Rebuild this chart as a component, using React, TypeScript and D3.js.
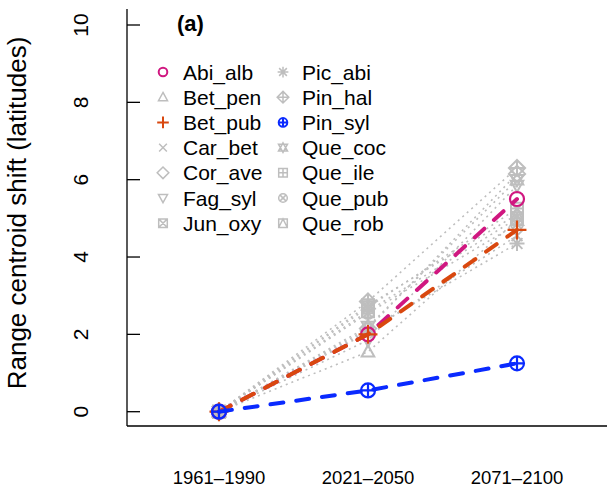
import * as d3 from 'd3';

// Range centroid shift per species and period (latitudes)
const periods = ['1961–1990', '2021–2050', '2071–2100'];
const species = [
  'Abi_alb', 'Bet_pen', 'Bet_pub', 'Car_bet', 'Cor_ave', 'Fag_syl', 'Jun_oxy',
  'Pic_abi', 'Pin_hal', 'Pin_syl', 'Que_coc', 'Que_ile', 'Que_pub', 'Que_rob',
];
const shift1961 = [0, 0, 0, 0, 0, 0, 0, 0, 0, 0, 0, 0, 0, 0];
const shift2021 = [2.0, 1.55, 2.0, 2.05, 2.15, 1.85, 2.7, 2.1, 2.85, 0.55, 2.2, 2.6, 2.55, 2.75];
const shift2071 = [5.5, 4.95, 4.7, 4.55, 6.15, 5.85, 5.25, 4.35, 6.3, 1.25, 6.0, 5.0, 4.85, 5.1];
const pchCodes = [1, 2, 3, 4, 5, 6, 7, 8, 9, 10, 11, 12, 13, 14];
const highlight: Record<string, string> = {
  Abi_alb: '#d01780',
  Bet_pub: '#d9480f',
  Pin_syl: '#0a2aff',
};
const yTicks = [0, 2, 4, 6, 8, 10];

const GRAY = '#bebebe';
const FONT = '"Liberation Sans", Arial, Helvetica, sans-serif';

// R-like plotting symbols as path strings centred on 0,0
function symbolPath(pch: number, s: number): string {
  const circle = `M${-s},0A${s},${s} 0 1,0 ${s},0A${s},${s} 0 1,0 ${-s},0Z`;
  const plus = (r: number) => `M${-r},0H${r}M0,${-r}V${r}`;
  const cross = (r: number) => `M${-r},${-r}L${r},${r}M${-r},${r}L${r},${-r}`;
  const square = `M${-s},${-s}H${s}V${s}H${-s}Z`;
  const diamond = (r: number) => `M0,${-r}L${r},0L0,${r}L${-r},0Z`;
  const triUp = `M0,${-s * 1.1}L${s * 1.05},${s * 0.8}L${-s * 1.05},${s * 0.8}Z`;
  const triDown = `M0,${s * 1.1}L${s * 1.05},${-s * 0.8}L${-s * 1.05},${-s * 0.8}Z`;
  switch (pch) {
    case 1: return circle;
    case 2: return triUp;
    case 3: return plus(s * 1.35);
    case 4: return cross(s * 0.9);
    case 5: return diamond(s * 1.35);
    case 6: return triDown;
    case 7: return square + cross(s);
    case 8: return plus(s * 1.25) + cross(s * 0.9);
    case 9: return diamond(s * 1.35) + plus(s * 1.35);
    case 10: return circle + plus(s);
    case 11: return triUp + triDown;
    case 12: return square + plus(s);
    case 13: return circle + cross(s * 0.72);
    case 14: return square + `M${-s},${s}L0,${-s}L${s},${s}`;
    default: return circle;
  }
}

export default function App() {
  const width = 607;
  const height = 487;

  const x = d3.scalePoint<string>().domain(periods).range([219, 517]);
  const y = d3.scaleLinear().domain([0, 10]).range([411.7, 25]);

  const rows = species.map((name, i) => ({
    name,
    pch: pchCodes[i],
    color: highlight[name] ?? GRAY,
    values: [shift1961[i], shift2021[i], shift2071[i]],
  }));
  const grays = rows.filter((r) => !highlight[r.name]);
  const colored = rows.filter((r) => highlight[r.name]);

  const line = d3.line<number>()
    .x((_, i) => x(periods[i]) as number)
    .y((d) => y(d));

  const axisLeft = 127;
  const axisBottom = 426;

  return (
    <div style={{ position: 'absolute', left: 0, top: 0 }}>
      <svg width={width} height={height} style={{ display: 'block', background: '#fff' }} fontFamily={FONT}>
        {/* gray species: dotted lines then markers */}
        {grays.map((r) => (
          <path key={`l-${r.name}`} d={line(r.values) ?? ''} fill="none"
            stroke={GRAY} strokeWidth={1.6} strokeDasharray="2,4" />
        ))}
        {grays.map((r) => r.values.map((v, i) => (
          <path key={`m-${r.name}-${i}`} d={symbolPath(r.pch, 6)}
            transform={`translate(${x(periods[i])},${y(v)})`}
            fill="none" stroke={GRAY} strokeWidth={2} />
        )))}

        {/* highlighted species: thick dashed lines */}
        {colored.map((r) => (
          <g key={`c-${r.name}`}>
            <path d={line(r.values) ?? ''} fill="none" stroke={r.color}
              strokeWidth={4} strokeDasharray="13,13" strokeLinecap="round" />
            {r.values.map((v, i) => (
              <path key={i} d={symbolPath(r.pch, 7)}
                transform={`translate(${x(periods[i])},${y(v)})`}
                fill="none" stroke={r.color} strokeWidth={2.2} />
            ))}
          </g>
        ))}

        {/* axes */}
        <line x1={axisLeft} x2={axisLeft} y1={9} y2={axisBottom} stroke="#000" strokeWidth={1.3} />
        <line x1={axisLeft} x2={width} y1={axisBottom} y2={axisBottom} stroke="#000" strokeWidth={1.3} />
        {yTicks.map((t) => (
          <g key={t}>
            <line x1={axisLeft} x2={axisLeft + 13} y1={y(t)} y2={y(t)} stroke="#000" strokeWidth={1.3} />
            <text transform={`translate(88,${y(t)}) rotate(-90)`} textAnchor="middle"
              fontSize={21}>{t}</text>
          </g>
        ))}
        <text transform={`translate(26,213) rotate(-90)`} textAnchor="middle" fontSize={26}>
          Range centroid shift (latitudes)
        </text>
        {periods.map((p) => (
          <text key={p} x={x(p)} y={484} textAnchor="middle" fontSize={18.5}>{p}</text>
        ))}

        {/* panel label */}
        <text x={177} y={31} fontSize={22} fontWeight="bold">(a)</text>

        {/* legend */}
        {rows.map((r, i) => {
          const col = Math.floor(i / 7);
          const row = i % 7;
          const cy = 72 + row * 25.2;
          const sx = col === 0 ? 163 : 283;
          const tx = col === 0 ? 183 : 302;
          return (
            <g key={`lg-${r.name}`}>
              <path d={symbolPath(r.pch, 4.3)} transform={`translate(${sx},${cy})`}
                fill="none" stroke={r.color} strokeWidth={r.color === GRAY ? 1.5 : 2} />
              <text x={tx} y={cy + 7.5} fontSize={21}>{r.name}</text>
            </g>
          );
        })}
      </svg>
    </div>
  );
}
